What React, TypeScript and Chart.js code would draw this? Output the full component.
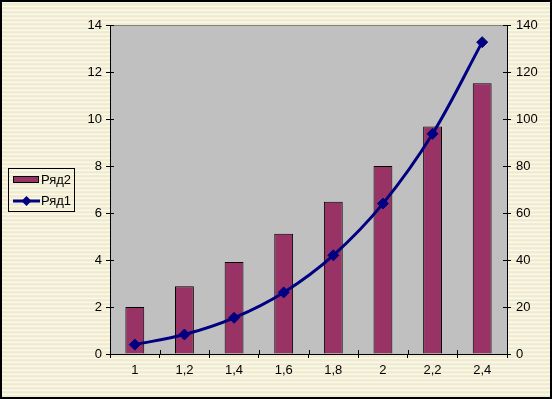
import React, { useEffect, useRef } from "react";
import { Chart, registerables } from "chart.js";

Chart.register(...registerables);

const categories = ["1", "1,2", "1,4", "1,6", "1,8", "2", "2,2", "2,4"];
const seriesBarLabel = "Ряд2";
const seriesBar = [2, 2.88, 3.92, 5.12, 6.48, 8, 9.68, 11.52];
const seriesLineLabel = "Ряд1";
const seriesLine = [4, 8.3, 15.4, 26.2, 42, 64, 93.7, 132.7];
const leftAxis = { min: 0, max: 14, step: 2 };
const rightAxis = { min: 0, max: 140, step: 20 };

const FONT = "Arial, 'Liberation Sans', sans-serif";
const FS = 13;
const W = 552;
const H = 399;

function makePattern(ctx: CanvasRenderingContext2D) {
  const c = document.createElement("canvas");
  c.width = 4;
  c.height = 4;
  const p = c.getContext("2d")!;
  const rows = ["#F0ECCA", "#F9EEDF", "#FBF8EC", "#ECEED3"];
  rows.forEach((col, i) => {
    p.fillStyle = col;
    p.fillRect(0, i, 4, 1);
  });
  return ctx.createPattern(c, "repeat");
}

const decorPlugin = {
  id: "decor",
  beforeDraw(chart: any) {
    const { ctx, chartArea: a } = chart;
    ctx.save();
    ctx.fillStyle = makePattern(ctx) || "#F3EEDB";
    ctx.fillRect(0, 0, chart.width, chart.height);
    ctx.fillStyle = "#C0C0C0";
    ctx.fillRect(a.left, a.top, a.right - a.left, a.bottom - a.top);
    ctx.strokeStyle = "#808080";
    ctx.lineWidth = 1;
    ctx.beginPath();
    ctx.moveTo(a.left, a.top + 0.5);
    ctx.lineTo(a.right, a.top + 0.5);
    ctx.stroke();
    ctx.restore();
  },
  afterDraw(chart: any) {
    const { ctx, chartArea: a, scales } = chart;
    ctx.save();
    // inside tick marks
    ctx.strokeStyle = "#000";
    ctx.lineWidth = 1;
    ctx.beginPath();
    scales.y.ticks.forEach((t: any) => {
      const py = Math.round(scales.y.getPixelForValue(t.value)) + 0.5;
      ctx.moveTo(a.left, py);
      ctx.lineTo(a.left + 4, py);
    });
    scales.y1.ticks.forEach((t: any) => {
      const py = Math.round(scales.y1.getPixelForValue(t.value)) + 0.5;
      ctx.moveTo(a.right - 4, py);
      ctx.lineTo(a.right, py);
    });
    for (let i = 1; i < categories.length; i++) {
      const px = Math.round((scales.x.getPixelForValue(i - 1) + scales.x.getPixelForValue(i)) / 2) + 0.5;
      ctx.moveTo(px, a.bottom - 4);
      ctx.lineTo(px, a.bottom);
    }
    ctx.stroke();

    // legend
    const ds = chart.data.datasets;
    const barDs = ds[0];
    const lineDs = ds[1];
    ctx.strokeStyle = "#000";
    ctx.lineWidth = 1;
    ctx.strokeRect(8.5, 168.5, 66, 43);
    ctx.fillStyle = barDs.backgroundColor;
    ctx.fillRect(13, 176, 26, 7);
    ctx.strokeRect(13.5, 176.5, 25, 6);
    ctx.strokeStyle = lineDs.borderColor;
    ctx.lineWidth = 3;
    ctx.beginPath();
    ctx.moveTo(13, 201);
    ctx.lineTo(40, 201);
    ctx.stroke();
    ctx.fillStyle = lineDs.borderColor;
    ctx.beginPath();
    ctx.moveTo(26.5 - 5, 201);
    ctx.lineTo(26.5, 196);
    ctx.lineTo(26.5 + 5, 201);
    ctx.lineTo(26.5, 206);
    ctx.closePath();
    ctx.fill();
    ctx.fillStyle = "#000";
    ctx.font = `${FS}px ${FONT}`;
    ctx.textBaseline = "middle";
    ctx.textAlign = "left";
    ctx.fillText(barDs.label, 41, 180);
    ctx.fillText(lineDs.label, 41, 201);

    // outer border
    ctx.strokeStyle = "#000";
    ctx.lineWidth = 2;
    ctx.strokeRect(1, 1, chart.width - 2, chart.height - 2);
    ctx.restore();
  },
};

export default function App() {
  const ref = useRef<HTMLCanvasElement>(null);
  useEffect(() => {
    const chart = new Chart(ref.current!, {
      data: {
        labels: categories,
        datasets: [
          {
            type: "bar",
            label: seriesBarLabel,
            data: seriesBar,
            yAxisID: "y",
            backgroundColor: "#993366",
            borderColor: "#000000",
            borderWidth: 1,
            barPercentage: 0.38,
            categoryPercentage: 1,
            order: 2,
          },
          {
            type: "line",
            label: seriesLineLabel,
            data: seriesLine,
            yAxisID: "y1",
            borderColor: "#000080",
            backgroundColor: "#000080",
            borderWidth: 3,
            tension: 0.35,
            pointStyle: "rectRot",
            pointRadius: 5.5,
            pointBorderWidth: 1,
            pointBorderColor: "#000080",
            pointBackgroundColor: "#000080",
            order: 1,
          },
        ] as any,
      },
      options: {
        animation: false,
        responsive: false,
        devicePixelRatio: 1,
        layout: { padding: { left: 0, right: 0, top: 25, bottom: 0 } },
        plugins: { legend: { display: false }, tooltip: { enabled: false } },
        scales: {
          x: {
            type: "category",
            offset: true,
            grid: { offset: true, drawOnChartArea: false, tickLength: 4, color: "#000" },
            border: { display: true, color: "#000", width: 1 },
            ticks: { color: "#000", font: { family: FONT, size: FS }, padding: 5, maxRotation: 0, autoSkip: false },
            afterFit: (s: any) => {
              s.height = 45;
            },
          },
          y: {
            position: "left",
            min: leftAxis.min,
            max: leftAxis.max,
            grid: { drawOnChartArea: false, tickLength: 4, color: "#000" },
            border: { display: true, color: "#000", width: 1 },
            ticks: { stepSize: leftAxis.step, color: "#000", font: { family: FONT, size: FS }, padding: 4 },
            afterFit: (s: any) => {
              s.width = 110;
            },
          },
          y1: {
            position: "right",
            min: rightAxis.min,
            max: rightAxis.max,
            grid: { drawOnChartArea: false, tickLength: 4, color: "#000" },
            border: { display: true, color: "#000", width: 1 },
            ticks: { stepSize: rightAxis.step, color: "#000", font: { family: FONT, size: FS }, padding: 5 },
            afterFit: (s: any) => {
              s.width = 45;
            },
          },
        },
      } as any,
      plugins: [decorPlugin],
    });
    return () => chart.destroy();
  }, []);
  return (
    <div style={{ position: "fixed", left: 0, top: 0, width: W, height: H }}>
      <canvas ref={ref} width={W} height={H} style={{ width: W, height: H, display: "block" }} />
    </div>
  );
}
